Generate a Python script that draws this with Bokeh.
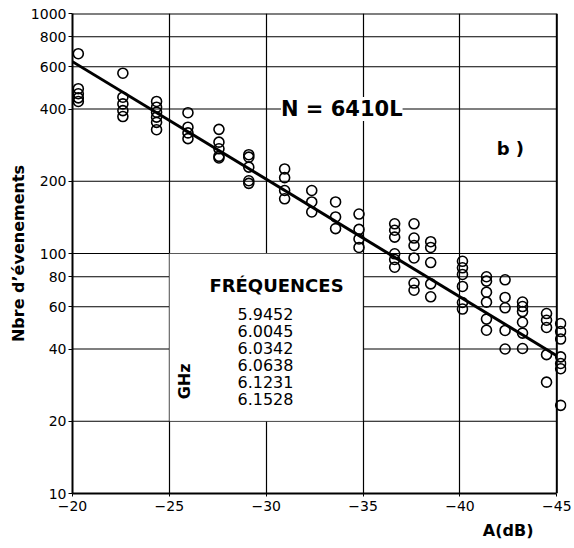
from bokeh.plotting import figure
from bokeh.models import (Range1d, FixedTicker, NumeralTickFormatter, Label,
                          BoxAnnotation, Span, Title)
from bokeh.embed import file_html
from bokeh.resources import INLINE

# ---- data ----
col_a = [-20.3, -22.6, -24.34, -25.96, -27.56, -29.1, -30.95, -32.35, -33.58,
         -34.79, -36.63, -37.63, -38.49, -40.13, -41.37, -42.33, -43.23,
         -44.47, -45.2]
col_counts = [
    [680, 486, 463, 445, 430],
    [564, 448, 420, 394, 372],
    [430, 407, 388, 370, 352, 328],
    [386, 336, 318, 301],
    [329, 291, 273, 254, 250],
    [258, 252, 229, 201, 196],
    [225, 207, 183, 169],
    [183, 164, 149],
    [164, 142, 127],
    [146, 126, 115, 106],
    [133, 125, 117, 99.7, 94.4, 87.7],
    [133, 116, 108, 95.8, 75.3, 70.3],
    [112, 106, 91.7, 74.7, 66],
    [92.8, 87.2, 81.8, 72.9, 62.5, 58.7],
    [80, 76.7, 69, 62.7, 53.3, 47.9],
    [77.7, 65.6, 59.4, 47.8, 40],
    [62.8, 60.1, 57.3, 51.7, 46.6, 40.2],
    [56.2, 52.7, 49.2, 37.9, 29.1],
    [51.1, 47.3, 44, 37.1, 34.8, 33.1, 23.3],
]
fit_a = [-20, -45]
fit_n = [630, 37.5]

x_ticks = [-20, -25, -30, -35, -40, -45]
x_tick_labels = ["\u221220", "\u221225", "\u221230", "\u221235", "\u221240", "\u221245"]
y_ticks = [10, 20, 40, 60, 80, 100, 200, 400, 600, 800, 1000]
x_grid = [-25, -30, -35, -40]
y_grid = [20, 40, 60, 80, 100, 200, 400, 600, 800]
freqs = ["5.9452", "6.0045", "6.0342", "6.0638", "6.1231", "6.1528"]

pts_a = [a for a, cs in zip(col_a, col_counts) for _ in cs]
pts_n = [c for cs in col_counts for c in cs]

FONT = "DejaVu Sans"

p = figure(width=574, height=548, x_range=Range1d(-20, -45.5),
           y_range=Range1d(10, 1000), y_axis_type="log",
           output_backend="svg", toolbar_location=None,
           min_border_left=72, min_border_right=8, min_border_top=13,
           min_border_bottom=55)
p.outline_line_color = None
p.background_fill_color = "white"
p.border_fill_color = "white"

# grid
p.xgrid.ticker = FixedTicker(ticks=x_grid)
p.xgrid.grid_line_color = "black"
p.xgrid.grid_line_width = 1.2
p.ygrid.visible = False
p.segment(x0=x_ticks[0], x1=x_ticks[-1], y0=y_grid, y1=y_grid,
          line_color="black", line_width=1.2, level="underlay")
# top & right frame
p.segment(x0=x_ticks[0], x1=x_ticks[-1], y0=y_ticks[-1], y1=y_ticks[-1],
          line_color="black", line_width=2)
p.add_layout(Span(location=x_ticks[-1], dimension="height",
                  line_color="black", line_width=2))

# axes
for ax in (p.xaxis[0], p.yaxis[0]):
    ax.axis_line_width = 2
    ax.axis_line_color = "black"
    ax.major_tick_in = 0
    ax.minor_tick_line_color = None
    ax.major_label_text_font = FONT
    ax.major_label_text_font_size = "14px"
    ax.major_label_text_color = "black"
    ax.major_tick_line_color = "black"

p.xaxis.ticker = FixedTicker(ticks=x_ticks)
p.xaxis.bounds = (x_ticks[-1], x_ticks[0])
p.xaxis.major_label_overrides = dict(zip(x_ticks, x_tick_labels))
p.xaxis.major_tick_out = 3
p.xaxis.major_label_standoff = 4

p.yaxis.ticker = FixedTicker(ticks=y_ticks)
p.yaxis.formatter = NumeralTickFormatter(format="0")
p.yaxis.major_tick_out = 4
p.yaxis.major_label_standoff = 2
p.yaxis.axis_label = "Nbre d\u2019\u00e9venements"
p.yaxis.axis_label_text_font = FONT
p.yaxis.axis_label_text_font_size = "16px"
p.yaxis.axis_label_text_font_style = "bold"
p.yaxis.axis_label_text_color = "black"
p.yaxis.axis_label_standoff = 0

p.add_layout(Title(text="A(dB)", align="right", offset=33,
                   text_font=FONT, text_font_size="16px",
                   text_font_style="bold", text_color="black"), "below")

# frequencies box
p.add_layout(BoxAnnotation(left=-25, right=-35, bottom=20, top=100,
                           fill_color="white", fill_alpha=1,
                           line_color="black", line_width=1.2))

# data
p.line(fit_a, fit_n, line_color="black", line_width=3)
p.scatter(pts_a, pts_n, marker="circle", size=10, fill_color=None,
          line_color="black", line_width=1.6)

# texts
p.add_layout(Label(x=-33.9, y=400, text="N = 6410L", text_align="center",
                   text_baseline="middle", text_font=FONT,
                   text_font_size="21px", text_font_style="bold",
                   text_color="black",
                   background_fill_color="white", background_fill_alpha=1))
p.add_layout(Label(x=-42.6, y=274, text="b )", text_align="center",
                   text_baseline="middle", text_font=FONT,
                   text_font_size="18px", text_font_style="bold",
                   text_color="black"))
p.add_layout(Label(x=-30.53, y=73.6, text="FR\u00c9QUENCES",
                   text_align="center", text_baseline="middle",
                   text_font=FONT, text_font_size="18px",
                   text_font_style="bold", text_color="black"))
p.add_layout(Label(x=-29.96, y=61, text="\n".join(freqs),
                   text_align="center", text_baseline="top",
                   text_font=FONT, text_font_size="16px",
                   text_line_height=0.89, text_color="black"))
p.add_layout(Label(x=-25.78, y=29.3, text="GHz", angle=1.5708,
                   text_align="center", text_baseline="middle",
                   text_font=FONT, text_font_size="16px",
                   text_font_style="bold", text_color="black"))

open("out.html", "w").write(file_html(p, INLINE))
